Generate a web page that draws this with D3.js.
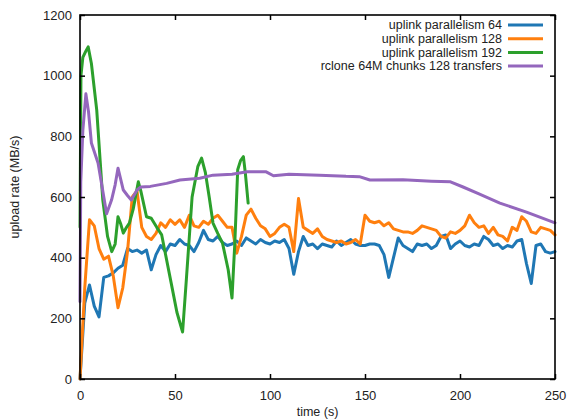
<!DOCTYPE html>
<html>
<head>
<meta charset="utf-8">
<script src="https://cdn.jsdelivr.net/npm/d3@7"></script>
<style>
  body { margin: 0; background: #fff; }
  text { font-family: "Liberation Sans", Arial, sans-serif; fill: #222; }
</style>
</head>
<body>
<script>
// Regular sampling (every 2.5 s) for the two steady uplink runs
const stepTimes = d3.range(0, 250.01, 2.5);

const uplink64 = [
  0, 250, 310, 240, 205, 335, 340, 350, 365, 375,
  430, 420, 425, 415, 425, 360, 410, 440, 420, 445,
  440, 460, 445, 440, 420, 450, 490, 460, 455, 470,
  450, 440, 445, 455, 440, 465, 455, 445, 460, 450,
  445, 455, 450, 460, 430, 345, 420, 470, 440, 445,
  430, 445, 440, 435, 455, 440, 450, 460, 445, 440,
  440, 445, 445, 440, 410, 335, 400, 465, 440, 430,
  420, 445, 440, 445, 430, 440, 470, 475, 430, 445,
  455, 440, 435, 445, 440, 470, 460, 440, 445, 430,
  440, 435, 455, 460, 380, 315, 440, 445, 420, 415,
  420
];

const uplink128 = [
  0, 300, 525, 505, 430, 395, 405, 340, 235, 300,
  420, 600, 620, 500, 470, 460, 480, 515, 500, 525,
  510, 525, 500, 540, 505, 500, 520, 510, 530, 540,
  520, 500, 500, 415, 470, 540, 560, 530, 505, 495,
  470, 480, 500, 510, 500, 420, 595, 500, 490, 480,
  495, 470, 460, 455, 450, 455, 445, 450, 460, 445,
  540, 520, 515, 520, 505, 515, 495, 490, 485, 485,
  480, 490, 505, 500, 495, 490, 470, 465, 485, 480,
  490, 505, 540, 515, 500, 505, 480, 500, 475, 470,
  455, 500, 490, 535, 520, 485, 480, 500, 495, 490,
  475
];

// Irregular samples for the oscillating 192 run
const uplink192Times = [
  0, 0.5, 1.5, 3, 4.3, 6, 8.8, 12, 14.5, 16.7, 18.5, 20, 21.5, 22.8, 24.5,
  26, 28, 30.7, 32, 35, 37.5, 40.4, 43, 48, 51, 54, 56, 59, 62, 64,
  66, 68, 70, 72.5, 75, 78, 80, 81.5, 83, 84.5, 86, 87, 88.5
];
const uplink192 = [
  500, 1000, 1060, 1080, 1095, 1040, 887, 590, 470, 420, 445, 535, 510, 481, 500,
  514, 560, 650, 620, 535, 530, 500, 475, 316, 220, 155, 330, 600, 700, 728,
  680, 600, 514, 480, 448, 360, 267, 450, 690, 720, 733, 680, 580
];

// rclone run is smooth, sparse samples
const rcloneTimes = [
  0, 0.4, 1.5, 3.1, 4.5, 6, 9.5, 12, 14, 16.6, 18.5, 20, 22.8, 25, 27,
  30, 32, 37, 45.6, 52.6, 63, 70, 80, 88, 98, 101.8, 110, 126, 140, 147,
  152.6, 170, 185, 195, 201.6, 210, 221, 235, 250
];
const rclone = [
  255, 650, 820, 940, 880, 778, 712, 620, 545, 590, 640, 695, 623, 605, 590,
  623, 633, 635, 645, 656, 662, 672, 675, 683, 683, 670, 675, 672, 668, 667,
  656, 657, 652, 650, 633, 610, 580, 550, 515
];

const seriesNames = [
  "uplink parallelism 64",
  "uplink parallelism 128",
  "uplink parallelism 192",
  "rclone 64M chunks 128 transfers"
];
const seriesColors = ["#1f77b4", "#ff7f0e", "#2ca02c", "#9467bd"];

const xTicks = [0, 50, 100, 150, 200, 250];
const yTicks = [0, 200, 400, 600, 800, 1000, 1200];

const series = [
  stepTimes.map((t, i) => ({ t, v: uplink64[i] })),
  stepTimes.map((t, i) => ({ t, v: uplink128[i] })),
  uplink192Times.map((t, i) => ({ t, v: uplink192[i] })),
  rcloneTimes.map((t, i) => ({ t, v: rclone[i] }))
];

// Chart dimensions
const W = 567, H = 420;
const margin = { top: 15, right: 12, bottom: 41, left: 80 };
const width = W - margin.left - margin.right;
const height = H - margin.top - margin.bottom;

const svg = d3.select("body").append("svg")
  .attr("width", W)
  .attr("height", H);

const g = svg.append("g")
  .attr("transform", `translate(${margin.left},${margin.top})`);

const x = d3.scaleLinear().domain([0, 250]).range([0, width]);
const y = d3.scaleLinear().domain([0, 1200]).range([height, 0]);

// Data lines
const line = d3.line()
  .x(d => x(d.t))
  .y(d => y(d.v));

series.forEach((s, i) => {
  g.append("path")
    .attr("d", line(s))
    .attr("fill", "none")
    .attr("stroke", seriesColors[i])
    .attr("stroke-width", 3)
    .attr("stroke-linejoin", "round")
    .attr("stroke-linecap", "round");
});

// Axes with inward ticks, mirrored on top/right
const tick = 5;
const fmt = d3.format("d");
const axBottom = g.append("g")
  .attr("transform", `translate(0,${height})`)
  .call(d3.axisBottom(x).tickValues(xTicks).tickFormat(fmt).tickSizeInner(-tick).tickSizeOuter(0).tickPadding(12));
const axTop = g.append("g")
  .call(d3.axisTop(x).tickValues(xTicks).tickSizeInner(-tick).tickSizeOuter(0).tickFormat(""));
const axLeft = g.append("g")
  .call(d3.axisLeft(y).tickValues(yTicks).tickFormat(fmt).tickSizeInner(-tick).tickSizeOuter(0).tickPadding(8));
const axRight = g.append("g")
  .attr("transform", `translate(${width},0)`)
  .call(d3.axisRight(y).tickValues(yTicks).tickSizeInner(-tick).tickSizeOuter(0).tickFormat(""));

[axBottom, axTop, axLeft, axRight].forEach(a => {
  a.select(".domain").remove();
  a.selectAll("line").attr("stroke", "#000").attr("stroke-width", 1.5);
  a.selectAll("text")
    .style("font-family", "'Liberation Sans', Arial, sans-serif")
    .style("font-size", "13px")
    .attr("fill", "#222");
});

// Frame
g.append("rect")
  .attr("width", width)
  .attr("height", height)
  .attr("fill", "none")
  .attr("stroke", "#000")
  .attr("stroke-width", 1.6);

// Axis labels
svg.append("text")
  .attr("x", margin.left + width / 2)
  .attr("y", 416)
  .attr("text-anchor", "middle")
  .style("font-size", "12.5px")
  .text("time (s)");

svg.append("text")
  .attr("transform", `translate(19,${margin.top + height / 2 - 10}) rotate(-90)`)
  .attr("text-anchor", "middle")
  .style("font-size", "12.5px")
  .text("upload rate (MB/s)");

// Legend
const legend = g.append("g")
  .attr("transform", `translate(${width - 47},${25 - margin.top})`);

seriesNames.forEach((name, i) => {
  const row = legend.append("g").attr("transform", `translate(0,${i * 13.7})`);
  row.append("text")
    .attr("x", -6)
    .attr("y", 0)
    .attr("dy", "0.35em")
    .attr("text-anchor", "end")
    .style("font-size", "12.5px")
    .text(name);
  row.append("line")
    .attr("x1", 0)
    .attr("x2", 35)
    .attr("y1", 0)
    .attr("y2", 0)
    .attr("stroke", seriesColors[i])
    .attr("stroke-width", 3);
});
</script>
</body>
</html>
